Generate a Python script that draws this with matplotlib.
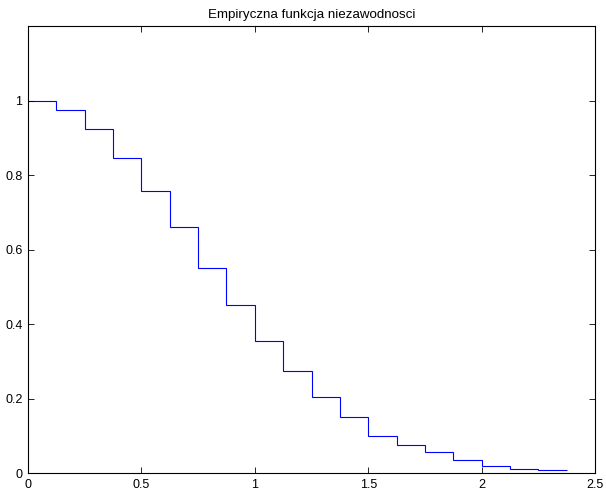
import matplotlib
matplotlib.use("Agg")
import matplotlib.pyplot as plt
import numpy as np

edges = [0, 0.125, 0.25, 0.375, 0.5, 0.625, 0.75, 0.875, 1.0, 1.125, 1.25,
         1.375, 1.5, 1.625, 1.75, 1.875, 2.0, 2.125, 2.25, 2.375]
reliability = [1.0, 0.975, 0.925, 0.845, 0.758, 0.662, 0.551, 0.451, 0.355,
               0.274, 0.206, 0.152, 0.100, 0.075, 0.056, 0.035, 0.019, 0.012, 0.008]
xticks = [0, 0.5, 1, 1.5, 2, 2.5]
xticklabels = ["0", "0.5", "1", "1.5", "2", "2.5"]
yticks = [0, 0.2, 0.4, 0.6, 0.8, 1]
yticklabels = ["0", "0.2", "0.4", "0.6", "0.8", "1"]

plt.rcParams['font.family'] = ['Liberation Sans', 'DejaVu Sans']

fig = plt.figure(figsize=(6.06, 4.92), dpi=100)
ax = fig.add_axes([28/606, 1 - 473.3/492, (595-28)/606, (473.3-26)/492])
ax.stairs(reliability, edges, baseline=None, color='#0000ff', linewidth=0.8)
ax.set_xlim(0, 2.5)
ax.set_ylim(0, 1.2)
ax.set_xticks(xticks)
ax.set_xticklabels(xticklabels)
ax.set_yticks(yticks)
ax.set_yticklabels(yticklabels)
ax.tick_params(direction='in', top=True, right=True, length=4, width=0.6,
               labelsize=9, pad=4)
for s in ax.spines.values():
    s.set_linewidth(0.8)
ax.set_title("Empiryczna funkcja niezawodnosci", fontsize=9.6, pad=6)
fig.savefig("out.png", dpi=100)
